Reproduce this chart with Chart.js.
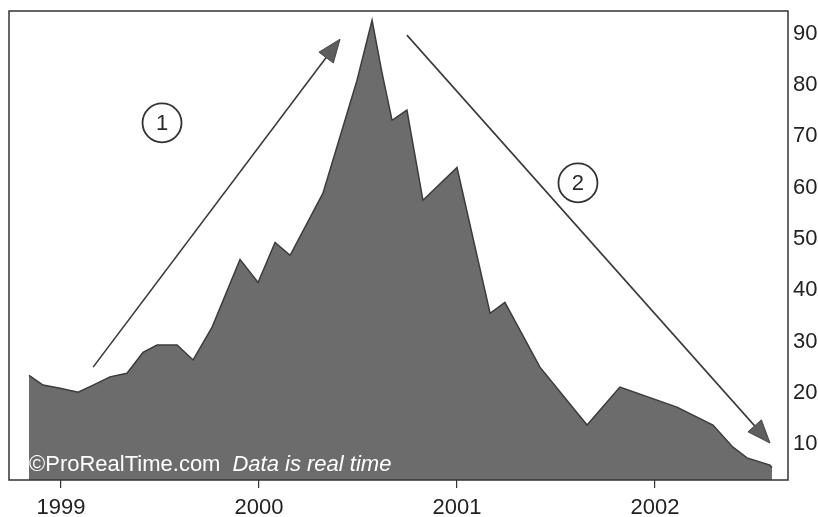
<!DOCTYPE html>
<html><head><meta charset="utf-8">
<script src="https://cdn.jsdelivr.net/npm/chart.js@4"></script>
<style>html,body{margin:0;padding:0;background:#fff;overflow:hidden}</style>
</head><body>
<canvas id="c" width="818" height="517"></canvas>
<script>
// decimal-year dates and closing values
const dates = [1998.838,1998.909,1998.995,1999.086,1999.162,1999.247,1999.333,1999.414,1999.485,1999.586,1999.667,1999.763,1999.904,1999.995,2000.081,2000.157,2000.323,2000.495,2000.571,2000.621,2000.672,2000.747,2000.828,2001.000,2001.167,2001.242,2001.419,2001.657,2001.823,2002.111,2002.293,2002.394,2002.465,2002.581,2002.591];
const prices = [23.4,21.5,20.9,20.1,21.5,23.1,23.8,27.9,29.3,29.3,26.4,32.8,46.0,41.5,49.3,46.8,58.9,80.9,92.6,82.4,73.1,75.1,57.5,63.9,35.5,37.6,25.0,13.7,21.1,17.2,13.7,9.4,7.3,5.9,5.4];
const yearTicks = [1999,2000,2001,2002];
const priceTicks = [10,20,30,40,50,60,70,80,90];
// annotations in data coordinates [year, value]
const arrowFrom = [[1999.162,25.0],[2000.747,89.7]];
const arrowTo = [[2000.409,88.9],[2002.581,10.2]];
const circleLabels = ['1','2'];
const circleAt = [[1999.510,72.6],[2001.611,60.9]];
const watermark = ['\u00A9ProRealTime.com','Data is real time'];

const FONT = '"Liberation Sans", Arial, Helvetica, sans-serif';

const deco = {
  id:'deco',
  afterDatasetsDraw(chart){
    const ctx = chart.ctx, a = chart.chartArea, xs = chart.scales.x, ys = chart.scales.y;
    ctx.save();
    // watermark
    ctx.fillStyle = '#ffffff';
    ctx.textBaseline = 'alphabetic';
    ctx.textAlign = 'left';
    ctx.font = '22px ' + FONT;
    const wx = a.left + 20, wy = a.bottom - 9;
    ctx.fillText(watermark[0], wx, wy);
    const w = ctx.measureText(watermark[0]).width;
    ctx.font = 'italic 22px ' + FONT;
    ctx.fillText(watermark[1], wx + w + 12, wy);
    // frame
    ctx.strokeStyle = '#333';
    ctx.lineWidth = 1.5;
    ctx.strokeRect(a.left, a.top, a.width, a.height);
    // arrows
    for (let i = 0; i < arrowFrom.length; i++) {
      const x1 = xs.getPixelForValue(arrowFrom[i][0]), y1 = ys.getPixelForValue(arrowFrom[i][1]);
      const x2 = xs.getPixelForValue(arrowTo[i][0]), y2 = ys.getPixelForValue(arrowTo[i][1]);
      const ang = Math.atan2(y2 - y1, x2 - x1);
      const hl = 23, hw = 9;
      const bx = x2 - hl * Math.cos(ang), by = y2 - hl * Math.sin(ang);
      ctx.beginPath();
      ctx.moveTo(x1, y1); ctx.lineTo(bx, by);
      ctx.strokeStyle = '#3a3a3a'; ctx.lineWidth = 1.6; ctx.stroke();
      ctx.beginPath();
      ctx.moveTo(x2, y2);
      ctx.lineTo(bx + hw * Math.sin(ang), by - hw * Math.cos(ang));
      ctx.lineTo(bx - hw * Math.sin(ang), by + hw * Math.cos(ang));
      ctx.closePath();
      ctx.fillStyle = '#5e5e5e'; ctx.fill();
      ctx.strokeStyle = '#444'; ctx.lineWidth = 1; ctx.stroke();
    }
    // circled numbers
    for (let i = 0; i < circleAt.length; i++) {
      const cx = xs.getPixelForValue(circleAt[i][0]), cy = ys.getPixelForValue(circleAt[i][1]);
      ctx.beginPath();
      ctx.arc(cx, cy, 19.5, 0, Math.PI * 2);
      ctx.fillStyle = '#fff'; ctx.fill();
      ctx.strokeStyle = '#333'; ctx.lineWidth = 1.8; ctx.stroke();
      ctx.fillStyle = '#2a2a2a';
      ctx.font = '22px ' + FONT;
      ctx.textAlign = 'center'; ctx.textBaseline = 'middle';
      ctx.fillText(circleLabels[i], cx, cy + 1);
    }
    ctx.restore();
  }
};

new Chart(document.getElementById('c'), {
  type: 'line',
  data: {
    datasets: [{
      data: dates.map((d, i) => ({x: d, y: prices[i]})),
      borderColor: '#3c3c3c',
      borderWidth: 1.5,
      backgroundColor: '#6c6c6c',
      fill: 'start',
      pointRadius: 0,
      tension: 0
    }]
  },
  options: {
    responsive: false,
    animation: false,
    events: [],
    layout: {padding: {left: 9, top: 11, right: 0, bottom: 0}},
    plugins: {legend: {display: false}, tooltip: {enabled: false}},
    scales: {
      x: {
        type: 'linear',
        min: 1998.737,
        max: 2002.672,
        afterBuildTicks: s => { s.ticks = yearTicks.map(v => ({value: v})); },
        afterFit: s => { s.height = 37; s.paddingLeft = 0; s.paddingRight = 0; },
        border: {display: false},
        grid: {display: true, drawOnChartArea: false, drawTicks: true, tickLength: 8, color: '#333', lineWidth: 1.2},
        ticks: {
          autoSkip: false, maxRotation: 0, padding: 7,
          color: '#222', font: {family: FONT, size: 22},
          callback: v => String(v)
        }
      },
      y: {
        type: 'linear',
        position: 'right',
        min: 3.0,
        max: 94.4,
        afterBuildTicks: s => { s.ticks = priceTicks.map(v => ({value: v})); },
        afterFit: s => { s.width = 30; s.paddingTop = 0; s.paddingBottom = 0; },
        border: {display: false},
        grid: {display: false, drawTicks: false},
        ticks: {
          padding: 5, color: '#222', font: {family: FONT, size: 22},
          callback: v => String(v)
        }
      }
    }
  },
  plugins: [deco]
});
</script>
</body></html>
